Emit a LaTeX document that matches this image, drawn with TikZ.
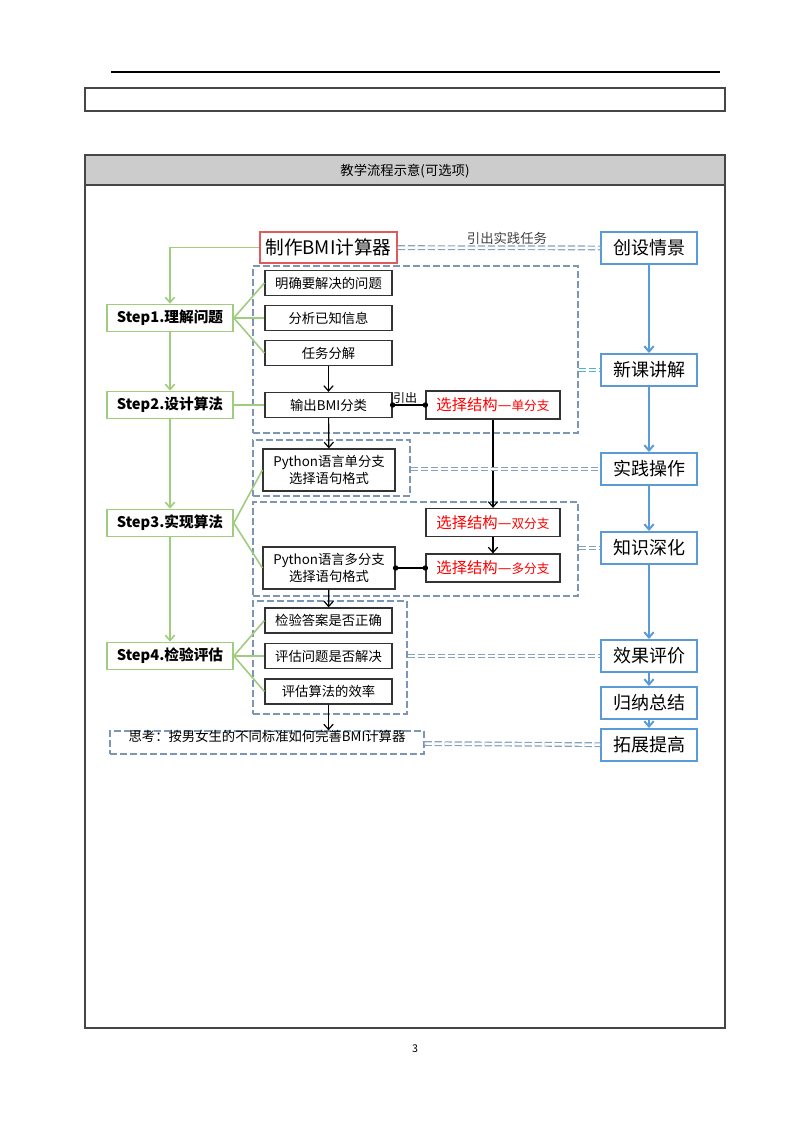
\documentclass[tikz,border=0pt]{standalone}
\usepackage{fontspec}
\setmainfont{Noto Sans CJK SC}
\usetikzlibrary{arrows.meta, positioning, fit}
\definecolor{stepgreen}{RGB}{160,205,125}
\definecolor{phaseblue}{RGB}{91,155,213}
\definecolor{grpgray}{RGB}{125,150,180}
\definecolor{linkgray}{RGB}{135,160,190}
\definecolor{linkteal}{RGB}{85,180,195}
\definecolor{titlered}{RGB}{225,90,90}
\definecolor{headgray}{RGB}{204,204,204}
\definecolor{framegray}{RGB}{70,70,70}
\newcommand{\seltext}[1]{{\fontsize{11.5}{13}\selectfont 选择结构—}{\fontsize{9.5}{12}\selectfont #1}}

\begin{document}
\begin{tikzpicture}[x=0.75pt, y=-0.75pt,
        stepbox/.style={rectangle, draw=stepgreen, line width=1.2pt, fill=white, minimum width=94.5pt, minimum height=20.25pt, inner sep=0pt, font=\fontsize{11}{13}\selectfont\bfseries},
        item/.style={rectangle, draw=black!80, line width=0.9pt, fill=white, minimum width=95.25pt, minimum height=18.75pt, inner sep=0pt, font=\fontsize{10}{12}\selectfont},
        pybox/.style={item, minimum width=99pt, minimum height=31.5pt, align=center, font=\fontsize{10}{12.5}\selectfont},
        selbox/.style={item, minimum width=100.5pt, minimum height=21pt, text=red},
        phase/.style={rectangle, draw=phaseblue, line width=1.5pt, fill=white, minimum width=72pt, minimum height=24pt, inner sep=0pt, font=\fontsize{13.5}{15}\selectfont},
        grp/.style={draw=grpgray, dashed, dash pattern=on 5pt off 2.5pt, line width=0.9pt, inner sep=0pt},
        dbl/.style={draw=linkgray, double=white, double distance=1.8pt, dash pattern=on 5.5pt off 2pt, line width=0.9pt},
        greenline/.style={draw=stepgreen, line width=1.2pt},
        greenarrow/.style={greenline, -{Straight Barb[length=4pt,width=7pt]}},
        blackarrow/.style={draw=black, line width=0.9pt, -{Straight Barb[length=4pt,width=7pt]}},
        bluearrow/.style={draw=phaseblue, line width=1.5pt, -{Straight Barb[length=4pt,width=7pt]}},
        dotline/.style={draw=black, line width=0.8pt, {Circle[length=4pt,width=4pt]}-{Circle[length=4pt,width=4pt]}, shorten <=-2pt, shorten >=-2pt}
    ]
    \useasboundingbox (0,0) rectangle (794,1123);

    % page frame
    \draw[black, line width=0.8pt] (111,72) -- (720,72);
    \draw[framegray, line width=0.8pt] (85,88) rectangle (725,111);
    \draw[framegray, line width=0.8pt, fill=headgray] (85,155) rectangle (725,185);
    \draw[framegray, line width=0.8pt] (85,185) rectangle (725,1028);
    \node[font=\fontsize{10}{12}\selectfont] (head) at (405,171) {教学流程示意(可选项)};
    \node[font=\fontsize{8}{10}\selectfont] (pageno) at (415,1049) {3};

    % dashed groups
    \node[grp, fit={(253,266) (578,433)}] (g1) {};
    \node[grp, fit={(253,440) (410,496)}] (g2) {};
    \node[grp, fit={(253,502) (578,596)}] (g3) {};
    \node[grp, fit={(253,601) (407,714)}] (g4) {};

    % task and phases
    \node[draw=titlered, line width=1.2pt, minimum width=102.75pt, minimum height=23.25pt, inner sep=0pt, font=\fontsize{14}{16}\selectfont] (task) at (328.5,247.5) {制作BMI计算器};
    \node[phase] (p1) at (649,248) {创设情景};
    \node[phase] (p2) at (649,370) {新课讲解};
    \node[phase] (p3) at (649,469) {实践操作};
    \node[phase] (p4) at (649,548) {知识深化};
    \node[phase] (p5) at (649,656) {效果评价};
    \node[phase] (p6) at (649,703) {归纳总结};
    \node[phase] (p7) at (649,745) {拓展提高};

    % steps
    \node[stepbox] (s1) at (170,318) {Step1.理解问题};
    \node[stepbox] (s2) at (170,405) {Step2.设计算法};
    \node[stepbox] (s3) at (170,523) {Step3.实现算法};
    \node[stepbox] (s4) at (170,656) {Step4.检验评估};

    % contents
    \node[item] (q1) at (328.5,283) {明确要解决的问题};
    \node[item] (q2) at (328.5,318) {分析已知信息};
    \node[item] (q3) at (328.5,353) {任务分解};
    \node[item] (out) at (328.5,405) {输出BMI分类};
    \node[selbox] (sel1) at (493,405) {\seltext{单分支}};
    \node[pybox] (py1) at (329,470) {Python语言单分支\\选择语句格式};
    \node[selbox] (sel2) at (493,522.5) {\seltext{双分支}};
    \node[selbox] (sel3) at (493,568) {\seltext{多分支}};
    \node[pybox] (py2) at (329,568) {Python语言多分支\\选择语句格式};
    \node[item] (c1) at (328.5,620.5) {检验答案是否正确};
    \node[item] (c2) at (328.5,656) {评估问题是否解决};
    \node[item] (c3) at (328.5,691.5) {评估算法的效率};
    \node[grp, fit={(110,731) (424,754)}, font=\fontsize{10}{12}\selectfont] (think) {思考：按男女生的不同标准如何完善BMI计算器};

    % green flow
    \draw[greenarrow] (task.west) -| (s1.north);
    \draw[greenarrow] (s1) -- (s2);
    \draw[greenarrow] (s2) -- (s3);
    \draw[greenarrow] (s3) -- (s4);
    \foreach \t in {q1,q2,q3} \draw[greenline] (s1.east) -- (\t.west);
    \draw[greenline] (s2) -- (out);
    \foreach \t in {py1,py2} \draw[greenline] (s3.east) -- (\t.west);
    \foreach \t in {c1,c2,c3} \draw[greenline] (s4.east) -- (\t.west);

    % black flow
    \draw[blackarrow] (q3) -- (out);
    \draw[blackarrow] (out) -- (py1);
    \draw[blackarrow] (sel1) -- (sel2);
    \draw[blackarrow] (sel2) -- (sel3);
    \draw[blackarrow] (py2) -- (c1);
    \draw[blackarrow] (c3) -- (c3 |- think.north);
    \draw[dotline] (out) -- node[above, pos=0.38, inner sep=1pt, font=\fontsize{9}{10}\selectfont] {引出} (sel1);
    \draw[dotline] (py2) -- (sel3);

    % blue flow
    \foreach \a/\b in {p1/p2,p2/p3,p3/p4,p4/p5,p5/p6,p6/p7}
        \draw[bluearrow] (\a) -- (\b);

    % links
    \draw[dbl] (task) -- node[above, pos=0.54, inner sep=2pt, text=black!75, font=\fontsize{10}{12}\selectfont] {引出实践任务} (p1);
    \draw[dbl, draw=linkteal] (g1.east |- p2.west) -- (p2.west);
    \draw[dbl] (g2.east |- p3.west) -- (p3.west);
    \draw[dbl] (g3.east |- p4.west) -- (p4.west);
    \draw[dbl] (g4.east |- p5.west) -- (p5.west);
    \draw[dbl] (think) -- (p7);
\end{tikzpicture}
\end{document}
